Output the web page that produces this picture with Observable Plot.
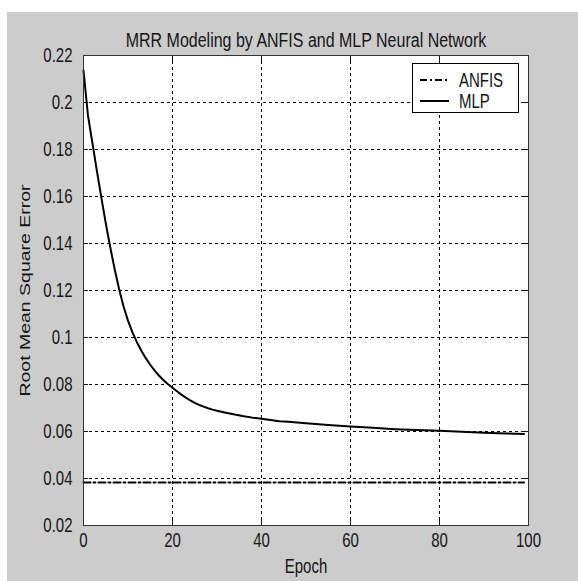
<!DOCTYPE html>
<html>
<head>
<meta charset="utf-8">
<script src="https://cdn.jsdelivr.net/npm/d3@7"></script>
<script src="https://cdn.jsdelivr.net/npm/@observablehq/plot@0.6"></script>
<style>
  html, body { margin: 0; padding: 0; background: #ffffff; }
  #fig { position: absolute; left: 7px; top: 12px; width: 571px; height: 569px; background: #cccccc; overflow: hidden; }
  #chart { position: absolute; left: 0; top: 0; }
  #legend { position: absolute; left: 405px; top: 51px; }
</style>
</head>
<body>
<div id="fig">
  <div id="chart"></div>
  <svg id="legend" width="108" height="51"></svg>
</div>
<script>
// ---- data ----
const titleText = "MRR Modeling by ANFIS and MLP Neural Network";
const xLabel = "Epoch";
const yLabel = "Root Mean Square Error";
const seriesNames = ["ANFIS", "MLP"];

const mlpEpoch = [0,1,2,3,4,5,6,7,8,9,10,11,12,13,14,15,16,17,18,19,20,21,22,23,24,25,26,27,28,29,30,32,34,36,38,40,42,44,46,48,50,55,60,65,70,75,80,85,90,95,99];
const mlpRmse  = [0.2136,0.1945,0.1828,0.1710,0.1596,0.1487,0.1385,0.1291,0.1206,0.1132,0.1072,0.1022,0.0980,0.0944,0.0912,0.0884,0.0859,0.0837,0.0818,0.0801,0.0786,0.0771,0.0757,0.0744,0.0732,0.0722,0.0713,0.0706,0.0699,0.0693,0.0688,0.0680,0.0672,0.0665,0.0659,0.0654,0.0649,0.0644,0.0641,0.0638,0.0635,0.0628,0.0621,0.0616,0.0610,0.0606,0.0603,0.0599,0.0595,0.0592,0.0589];

const anfisEpoch = [0, 99];
const anfisRmse  = [0.0383, 0.0383];

const xTicks = [0, 20, 40, 60, 80, 100];
const xTickLabels = ["0", "20", "40", "60", "80", "100"];
const yTicks = [0.02, 0.04, 0.06, 0.08, 0.1, 0.12, 0.14, 0.16, 0.18, 0.2, 0.22];
const yTickLabels = ["0.02", "0.04", "0.06", "0.08", "0.1", "0.12", "0.14", "0.16", "0.18", "0.2", "0.22"];

// ---- tables built from the arrays ----
const mlp = mlpEpoch.map((e, i) => ({epoch: e, rmse: mlpRmse[i]}));
const anfis = anfisEpoch.map((e, i) => ({epoch: e, rmse: anfisRmse[i]}));

const ink = "#151515";
const fontFamily = "'Liberation Sans', Arial, Helvetica, sans-serif";
const stretch = 1.3;

const fmtX = d => xTickLabels[xTicks.indexOf(d)];
const fmtY = d => yTickLabels[yTicks.findIndex(t => Math.abs(t - d) < 1e-9)];

const chart = Plot.plot({
  width: 571,
  height: 569,
  marginLeft: 76,
  marginRight: 50,
  marginTop: 43,
  marginBottom: 56,
  style: {background: "transparent", fontFamily, fontSize: "15px", color: ink},
  x: {domain: [0, 100]},
  y: {domain: [0.02, 0.22]},
  marks: [
    Plot.frame({fill: "#ffffff", stroke: null}),
    Plot.gridX(xTicks, {stroke: "#000", strokeOpacity: 1, strokeDasharray: "3,3", strokeWidth: 1}),
    Plot.gridY(yTicks, {stroke: "#000", strokeOpacity: 1, strokeDasharray: "3,3", strokeWidth: 1}),
    Plot.axisX(xTicks, {anchor: "bottom", tickSize: -5, tickPadding: 13, tickFormat: fmtX, label: null}),
    Plot.axisX(xTicks, {anchor: "top", tickSize: -5, fill: "none", tickFormat: fmtX, label: null}),
    Plot.axisY(yTicks, {anchor: "left", tickSize: -5, tickPadding: 16, tickFormat: fmtY, label: null}),
    Plot.axisY(yTicks, {anchor: "right", tickSize: -5, fill: "none", tickFormat: fmtY, label: null}),
    Plot.line(anfis, {x: "epoch", y: "rmse", stroke: "#000", strokeWidth: 2, strokeDasharray: "7,3,2,3"}),
    Plot.line(mlp, {x: "epoch", y: "rmse", stroke: "#000", strokeWidth: 2}),
    Plot.frame({stroke: "#333", strokeWidth: 1}),
    Plot.text([titleText], {frameAnchor: "top", dy: -23, fill: ink, fontSize: 16}),
    Plot.text([xLabel], {frameAnchor: "bottom", dy: 47, fill: ink}),
    Plot.text([yLabel], {frameAnchor: "left", textAnchor: "middle", dx: -58, rotate: -90, fill: ink})
  ]
});
document.getElementById("chart").appendChild(chart);

// ---- legend ----
const lg = d3.select("#legend");
lg.append("rect").attr("x", 0.5).attr("y", 0.5).attr("width", 106).attr("height", 49)
  .attr("fill", "#fff").attr("stroke", "#000").attr("stroke-width", 1);
const rowsY = [17, 38];
const dashes = ["7,3,2,3", null];
seriesNames.forEach((name, i) => {
  lg.append("line").attr("x1", 8).attr("x2", 37).attr("y1", rowsY[i]).attr("y2", rowsY[i])
    .attr("stroke", "#000").attr("stroke-width", 2)
    .attr("stroke-dasharray", dashes[i]);
  lg.append("text").attr("x", 47).attr("y", rowsY[i]).attr("dy", "0.34em")
    .attr("fill", ink).style("font-family", fontFamily).style("font-size", "15px")
    .text(name);
});

// ---- reproduce the vertically stretched lettering of the reference ----
// each text is wrapped in a group that stretches it vertically about its own anchor point
function stretchText(root) {
  const NS = "http://www.w3.org/2000/svg";
  root.querySelectorAll("text").forEach(t => {
    const x = +t.getAttribute("x") || 0, y = +t.getAttribute("y") || 0;
    let ax = x, ay = y;
    const c = t.transform && t.transform.baseVal ? t.transform.baseVal.consolidate() : null;
    if (c) {
      const m = c.matrix;
      ax = m.a * x + m.c * y + m.e;
      ay = m.b * x + m.d * y + m.f;
    }
    const g = document.createElementNS(NS, "g");
    g.setAttribute("transform", `translate(${ax},${ay}) scale(1,${stretch}) translate(${-ax},${-ay})`);
    t.parentNode.insertBefore(g, t);
    g.appendChild(t);
  });
}
stretchText(chart);
stretchText(document.getElementById("legend"));
</script>
</body>
</html>
